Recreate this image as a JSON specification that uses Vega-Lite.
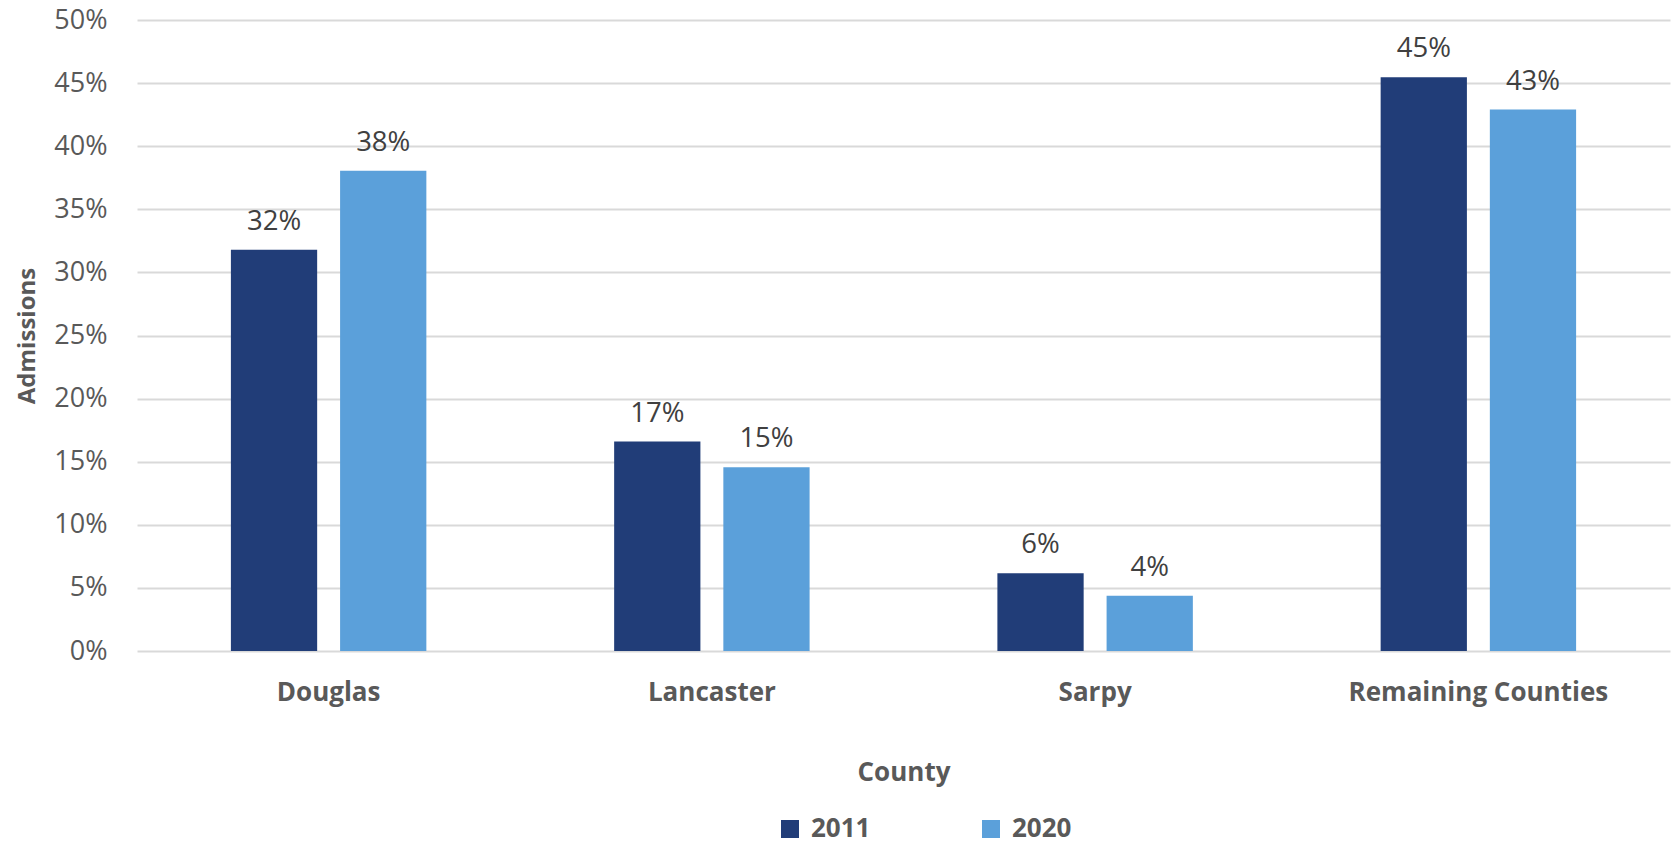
{
  "$schema": "https://vega.github.io/schema/vega-lite/v6.json",
  "autosize": "none",
  "width": 1533,
  "height": 631,
  "padding": {"left": 137, "top": 20, "right": 3, "bottom": 195},
  "background": "white",
  "config": {
    "font": "Open Sans",
    "view": {"stroke": null}
  },
  "data": {
    "values": [
      {"County": "Douglas", "Year": "2011", "Share": 0.318},
      {"County": "Douglas", "Year": "2020", "Share": 0.3806},
      {"County": "Lancaster", "Year": "2011", "Share": 0.166},
      {"County": "Lancaster", "Year": "2020", "Share": 0.1456},
      {"County": "Sarpy", "Year": "2011", "Share": 0.0616},
      {"County": "Sarpy", "Year": "2020", "Share": 0.0438},
      {"County": "Remaining Counties", "Year": "2011", "Share": 0.4546},
      {"County": "Remaining Counties", "Year": "2020", "Share": 0.429}
    ]
  },
  "encoding": {
    "x": {
      "field": "County",
      "type": "nominal",
      "sort": ["Douglas", "Lancaster", "Sarpy", "Remaining Counties"],
      "scale": {"paddingInner": 0.49, "paddingOuter": 0.245},
      "axis": {
        "labelAngle": 0,
        "labelLimit": 0,
        "labelFont": "Open Sans",
        "labelFontSize": 26,
        "labelFontWeight": "bold",
        "labelColor": "#595959",
        "labelPadding": 28,
        "domain": false,
        "ticks": false,
        "title": "County",
        "titleFont": "Open Sans",
        "titleFontSize": 26,
        "titleFontWeight": "bold",
        "titleColor": "#595959",
        "titlePadding": 54
      }
    },
    "xOffset": {
      "field": "Year",
      "type": "nominal",
      "scale": {"paddingInner": 0.21, "paddingOuter": 0}
    }
  },
  "layer": [
    {
      "mark": {"type": "bar"},
      "encoding": {
        "y": {
          "field": "Share",
          "type": "quantitative",
          "scale": {"domain": [0, 0.5]},
          "axis": {
            "values": [0, 0.05, 0.1, 0.15, 0.2, 0.25, 0.3, 0.35, 0.4, 0.45, 0.5],
            "format": ".0%",
            "labelFont": "Open Sans",
            "labelFontSize": 27,
            "labelColor": "#595959",
            "labelPadding": 30,
            "domain": false,
            "ticks": false,
            "grid": true,
            "gridColor": "#d9d9d9",
            "gridWidth": 1.8,
            "title": "Admissions",
            "titleFont": "Open Sans",
            "titleFontSize": 24,
            "titleFontWeight": "bold",
            "titleColor": "#595959",
            "titlePadding": 14
          }
        },
        "color": {
          "field": "Year",
          "type": "nominal",
          "scale": {"domain": ["2011", "2020"], "range": ["#213D78", "#5BA0DA"]},
          "legend": {
            "orient": "none",
            "legendX": 640,
            "legendY": 796,
            "direction": "horizontal",
            "title": null,
            "symbolType": "square",
            "symbolSize": 324,
            "symbolStrokeWidth": 0,
            "labelFont": "Open Sans",
            "labelFontSize": 26,
            "labelFontWeight": "bold",
            "labelColor": "#595959",
            "labelOffset": 8,
            "columnPadding": 107
          }
        }
      }
    },
    {
      "mark": {"type": "text", "baseline": "bottom", "dy": -14, "fontSize": 27.5, "font": "Open Sans", "color": "#404040"},
      "encoding": {
        "y": {"field": "Share", "type": "quantitative"},
        "text": {"field": "Share", "type": "quantitative", "format": ".0%"}
      }
    }
  ]
}
